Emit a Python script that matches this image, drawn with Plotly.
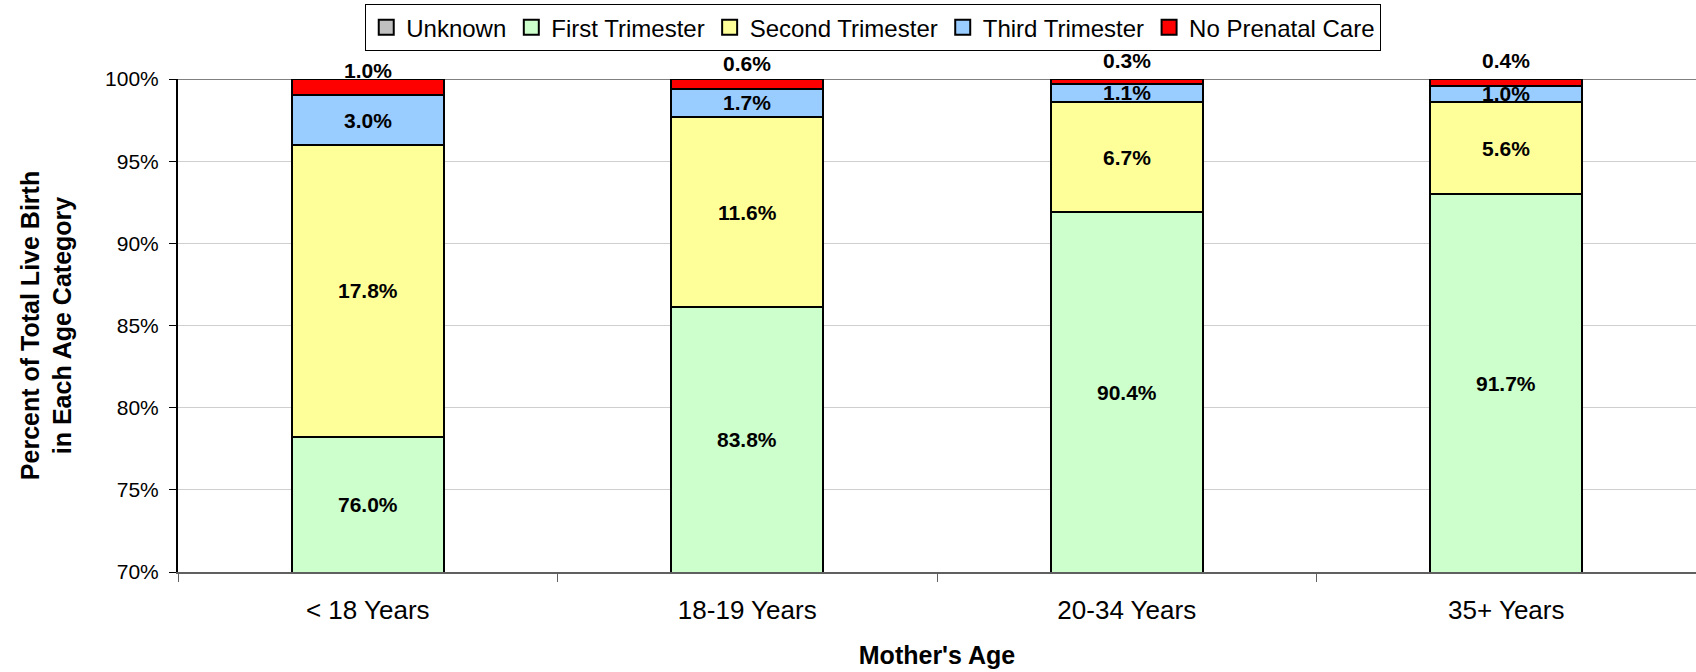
import plotly.graph_objects as go

categories = ["< 18 Years", "18-19 Years", "20-34 Years", "35+ Years"]
series_names = ["Unknown", "First Trimester", "Second Trimester", "Third Trimester", "No Prenatal Care"]
unknown = [2.2, 2.3, 1.5, 1.3]
first_tri = [76.0, 83.8, 90.4, 91.7]
second_tri = [17.8, 11.6, 6.7, 5.6]
third_tri = [3.0, 1.7, 1.1, 1.0]
no_care = [1.0, 0.6, 0.3, 0.4]
y_ticks = [70, 75, 80, 85, 90, 95, 100]
y_tick_labels = ["70%", "75%", "80%", "85%", "90%", "95%", "100%"]

colors = ["#C0C0C0", "#CCFFCC", "#FFFF99", "#99CCFF", "#FF0000"]
series = [unknown, first_tri, second_tri, third_tri, no_care]
y_min, y_max = 70, 100
top_label_shift = [9, 16, 19, 19]  # pixel offsets of the top labels above the 100% line

FONT = "Liberation Sans, Arial, sans-serif"
fig = go.Figure()
for name, vals, col in zip(series_names, series, colors):
    fig.add_trace(go.Bar(
        x=categories, y=vals, name=name, showlegend=False,
        marker=dict(color=col, line=dict(color="black", width=2)),
        width=0.4,
    ))
# legend entries (square swatches)
for name, col in zip(series_names, colors):
    fig.add_trace(go.Scatter(
        x=[None], y=[None], mode="markers", name=name,
        marker=dict(symbol="square", size=15, color=col, line=dict(color="black", width=2)),
    ))

# data labels
ann = []
for i, cat in enumerate(categories):
    base = 0.0
    for s_idx, vals in enumerate(series):
        lo, hi = base, base + vals[i]
        base = hi
        if s_idx == 0:
            continue
        txt = f"{vals[i]:.1f}%"
        if s_idx == 4:
            ann.append(dict(x=cat, y=hi, text=txt, showarrow=False, yanchor="middle",
                            yshift=top_label_shift[i],
                            font=dict(family=FONT, size=21, color="black", weight="bold")))
        else:
            mid = (max(lo, y_min) + min(hi, y_max)) / 2
            ann.append(dict(x=cat, y=mid, text=txt, showarrow=False, yanchor="middle",
                            font=dict(family=FONT, size=21, color="black", weight="bold")))

fig.update_layout(
    barmode="stack",
    width=1696, height=672,
    margin=dict(l=178, r=0, t=79, b=100),
    paper_bgcolor="white", plot_bgcolor="white",
    font=dict(family=FONT, color="black"),
    annotations=ann,
    legend=dict(
        orientation="h", x=0.458, y=1.152, xanchor="center", yanchor="top",
        font=dict(family=FONT, size=24, color="black"),
        bordercolor="black", borderwidth=1, bgcolor="white",
        itemwidth=30, traceorder="normal", tracegroupgap=0,
    ),
    showlegend=True,
)
fig.update_yaxes(
    range=[y_min, y_max], tickvals=y_ticks, ticktext=y_tick_labels,
    tickfont=dict(family=FONT, size=21, color="black"),
    showgrid=True, gridcolor="#CFCFCF", gridwidth=1,
    showline=True, linecolor="black", linewidth=2,
    ticks="outside", ticklen=7, tickcolor="black", ticklabelstandoff=6,
    zeroline=False, automargin=False,
    title=dict(text="<b>Percent of Total Live Birth<br>in Each Age Category</b>",
               font=dict(family=FONT, size=25, color="black"), standoff=26),
)
fig.update_xaxes(
    tickfont=dict(family=FONT, size=26, color="black"),
    showline=True, linecolor="#606060", linewidth=2,
    ticks="outside", tickson="boundaries", ticklen=8, tickcolor="#606060",
    ticklabelstandoff=14, automargin=False,
    title=dict(text="<b>Mother's Age</b>", font=dict(family=FONT, size=25, color="black"), standoff=22),
)
# top 100% line
fig.add_shape(type="line", xref="paper", yref="y", x0=0, x1=1, y0=y_max, y1=y_max,
              line=dict(color="#808080", width=2), layer="below")

fig.write_html("out.html", config={"displayModeBar": False},
               post_script="document.body.style.margin='0';document.body.style.overflow='hidden';")
